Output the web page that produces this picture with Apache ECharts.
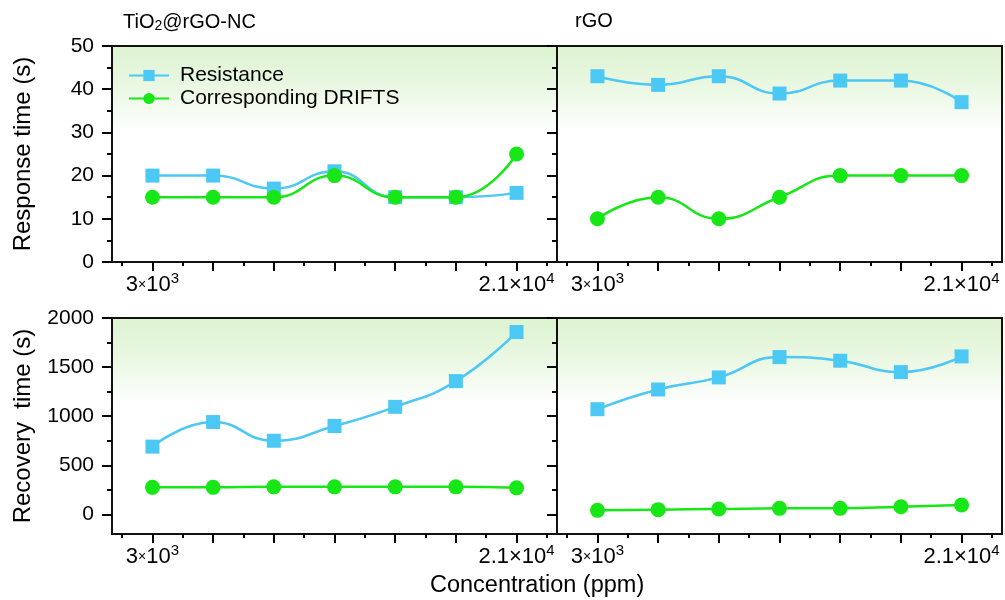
<!DOCTYPE html>
<html><head><meta charset="utf-8">
<script src="https://cdn.jsdelivr.net/npm/echarts@6/dist/echarts.min.js"></script>
<style>html,body{margin:0;padding:0;background:#fff}#c{width:1005px;height:600px}</style>
</head><body><div id="c"></div>
<script>
// ---- data ----
const concentrations = [3000, 6000, 9000, 12000, 15000, 18000, 21000];
const respResistanceTiO2 = [20, 20, 17, 21, 15, 15, 16];
const respDriftsTiO2 = [15, 15, 15, 20, 15, 15, 25];
const respResistanceRGO = [43, 41, 43, 39, 42, 42, 37];
const respDriftsRGO = [10, 15, 10, 15, 20, 20, 20];
const recResistanceTiO2 = [690, 940, 750, 900, 1095, 1357, 1857];
const recDriftsTiO2 = [275, 275, 280, 280, 280, 280, 270];
const recResistanceRGO = [1071, 1272, 1395, 1602, 1565, 1449, 1609];
const recDriftsRGO = [41, 48, 54, 61, 61, 78, 95];
const xMinorTicks = [1500, 4500, 7500, 10500, 13500, 16500, 19500, 22500];
const xLabelTicks = [3000, 21000];
const respTicks = [0, 10, 20, 30, 40, 50];
const respMinorTicks = [5, 15, 25, 35, 45];
const recTicks = [0, 500, 1000, 1500, 2000];
const recMinorTicks = [250, 750, 1250, 1750];
const seriesNames = ['Resistance', 'Corresponding DRIFTS'];
const panelTitles = ['{n|TiO}{sub|2}{n|@rGO-NC}', '{n|rGO}'];
const yNames = ['Response time (s)', 'Recovery  time (s)'];
const xName = 'Concentration (ppm)';

const FONT = '"Liberation Sans", Arial, sans-serif';
const BLUE = '#4cc8f4';
const GREEN = '#17e617';

const grids = [
  {left: 112, top: 46, width: 445, height: 216},
  {left: 557, top: 46, width: 445, height: 216},
  {left: 112, top: 318, width: 445, height: 216},
  {left: 557, top: 318, width: 445, height: 216}
];
const bg = {type: 'linear', x: 0, y: 0, x2: 0, y2: 1, colorStops: [
  {offset: 0, color: '#dcf3d0'}, {offset: 0.2, color: '#ebf8e4'},
  {offset: 0.4, color: '#ffffff'}, {offset: 1, color: '#ffffff'}]};

const panels = [
  {res: respResistanceTiO2, dr: respDriftsTiO2, min: 0, max: 50, ticks: respTicks, minor: respMinorTicks, labels: true, name: yNames[0]},
  {res: respResistanceRGO, dr: respDriftsRGO, min: 0, max: 50, ticks: respTicks, minor: respMinorTicks, labels: false},
  {res: recResistanceTiO2, dr: recDriftsTiO2, min: -200, max: 2000, ticks: recTicks, minor: recMinorTicks, labels: true, name: yNames[1]},
  {res: recResistanceRGO, dr: recDriftsRGO, min: -200, max: 2000, ticks: recTicks, minor: recMinorTicks, labels: false}
];

const xAxes = [], yAxes = [], series = [];
const tickLine = {color: '#000', width: 2};
panels.forEach((p, i) => {
  const xi = xAxes.length, yi = yAxes.length;
  xAxes.push({
    gridIndex: i, type: 'value', min: 1000, max: 23000, position: 'bottom',
    axisLine: {show: false, onZero: false}, splitLine: {show: false},
    axisTick: {show: true, customValues: concentrations, length: 9, lineStyle: tickLine},
    axisLabel: {
      customValues: xLabelTicks, margin: 9, color: '#000', fontFamily: FONT,
      formatter: v => v === 3000 ? '{a|3}{x|×}{a|10}{s|3}' : '{a|2.1×10}{s|4}',
      rich: {
        a: {fontSize: 22, fontFamily: FONT, color: '#000'},
        x: {fontSize: 14, fontFamily: FONT, color: '#000'},
        s: {fontSize: 15, fontFamily: FONT, color: '#000', padding: [0, 0, 13, 0]}
      }
    }
  });
  xAxes.push({
    gridIndex: i, type: 'value', min: 1000, max: 23000, position: 'bottom',
    axisLine: {show: false, onZero: false}, splitLine: {show: false},
    axisTick: {show: true, customValues: xMinorTicks, length: 4, lineStyle: tickLine},
    axisLabel: {show: false}
  });
  yAxes.push({
    gridIndex: i, type: 'value', min: p.min, max: p.max, position: 'left',
    axisLine: {show: false, onZero: false}, splitLine: {show: false},
    axisTick: {show: true, customValues: p.ticks, length: 10, lineStyle: tickLine},
    axisLabel: {show: p.labels, customValues: p.ticks, margin: 18, fontSize: 21, color: '#000', fontFamily: FONT,
      formatter: v => String(v)},
    name: p.name || '', nameLocation: 'middle', nameGap: 77, nameRotate: 90,
    nameTextStyle: {fontSize: 24, color: '#000', fontFamily: FONT}
  });
  yAxes.push({
    gridIndex: i, type: 'value', min: p.min, max: p.max, position: 'left',
    axisLine: {show: false, onZero: false}, splitLine: {show: false},
    axisTick: {show: true, customValues: p.minor, length: 5, lineStyle: tickLine},
    axisLabel: {show: false}
  });
  series.push({
    name: seriesNames[0], type: 'line', xAxisIndex: xi, yAxisIndex: yi,
    data: concentrations.map((c, k) => [c, p.res[k]]),
    smooth: 0.5, symbol: 'rect', symbolSize: 14, color: BLUE,
    lineStyle: {width: 2.5, color: BLUE}, itemStyle: {color: BLUE}
  });
  series.push({
    name: seriesNames[1], type: 'line', xAxisIndex: xi, yAxisIndex: yi,
    data: concentrations.map((c, k) => [c, p.dr[k]]),
    smooth: 0.5, symbol: 'circle', symbolSize: 15, color: GREEN,
    lineStyle: {width: 2.5, color: GREEN}, itemStyle: {color: GREEN}
  });
});

const titleRich = {
  n: {fontSize: 20, fontFamily: FONT, color: '#000'},
  sub: {fontSize: 14, fontFamily: FONT, color: '#000', padding: [8, 0, 0, 0]}
};

const chart = echarts.init(document.getElementById('c'), null, {renderer: 'canvas'});
chart.setOption({
  animation: false,
  backgroundColor: '#fff',
  textStyle: {fontFamily: FONT},
  title: [
    {text: panelTitles[0], left: 118, top: 6, textStyle: {rich: titleRich, fontSize: 20, fontWeight: 'normal'}},
    {text: panelTitles[1], left: 570, top: 6, textStyle: {rich: titleRich, fontSize: 20, fontWeight: 'normal'}},
    {text: xName, left: 425, top: 569, textStyle: {fontSize: 23.5, fontWeight: 'normal', color: '#000', fontFamily: FONT}}
  ],
  grid: grids.map(g => Object.assign({show: true, borderColor: '#111', borderWidth: 2, backgroundColor: bg}, g)),
  legend: {
    data: seriesNames, orient: 'vertical', left: 123, top: 60,
    itemWidth: 40, itemHeight: 14, itemGap: 2,
    textStyle: {fontSize: 21, color: '#000', fontFamily: FONT, padding: [0, 0, 0, 6]}
  },
  xAxis: xAxes,
  yAxis: yAxes,
  series: series
});
</script>
</body></html>
